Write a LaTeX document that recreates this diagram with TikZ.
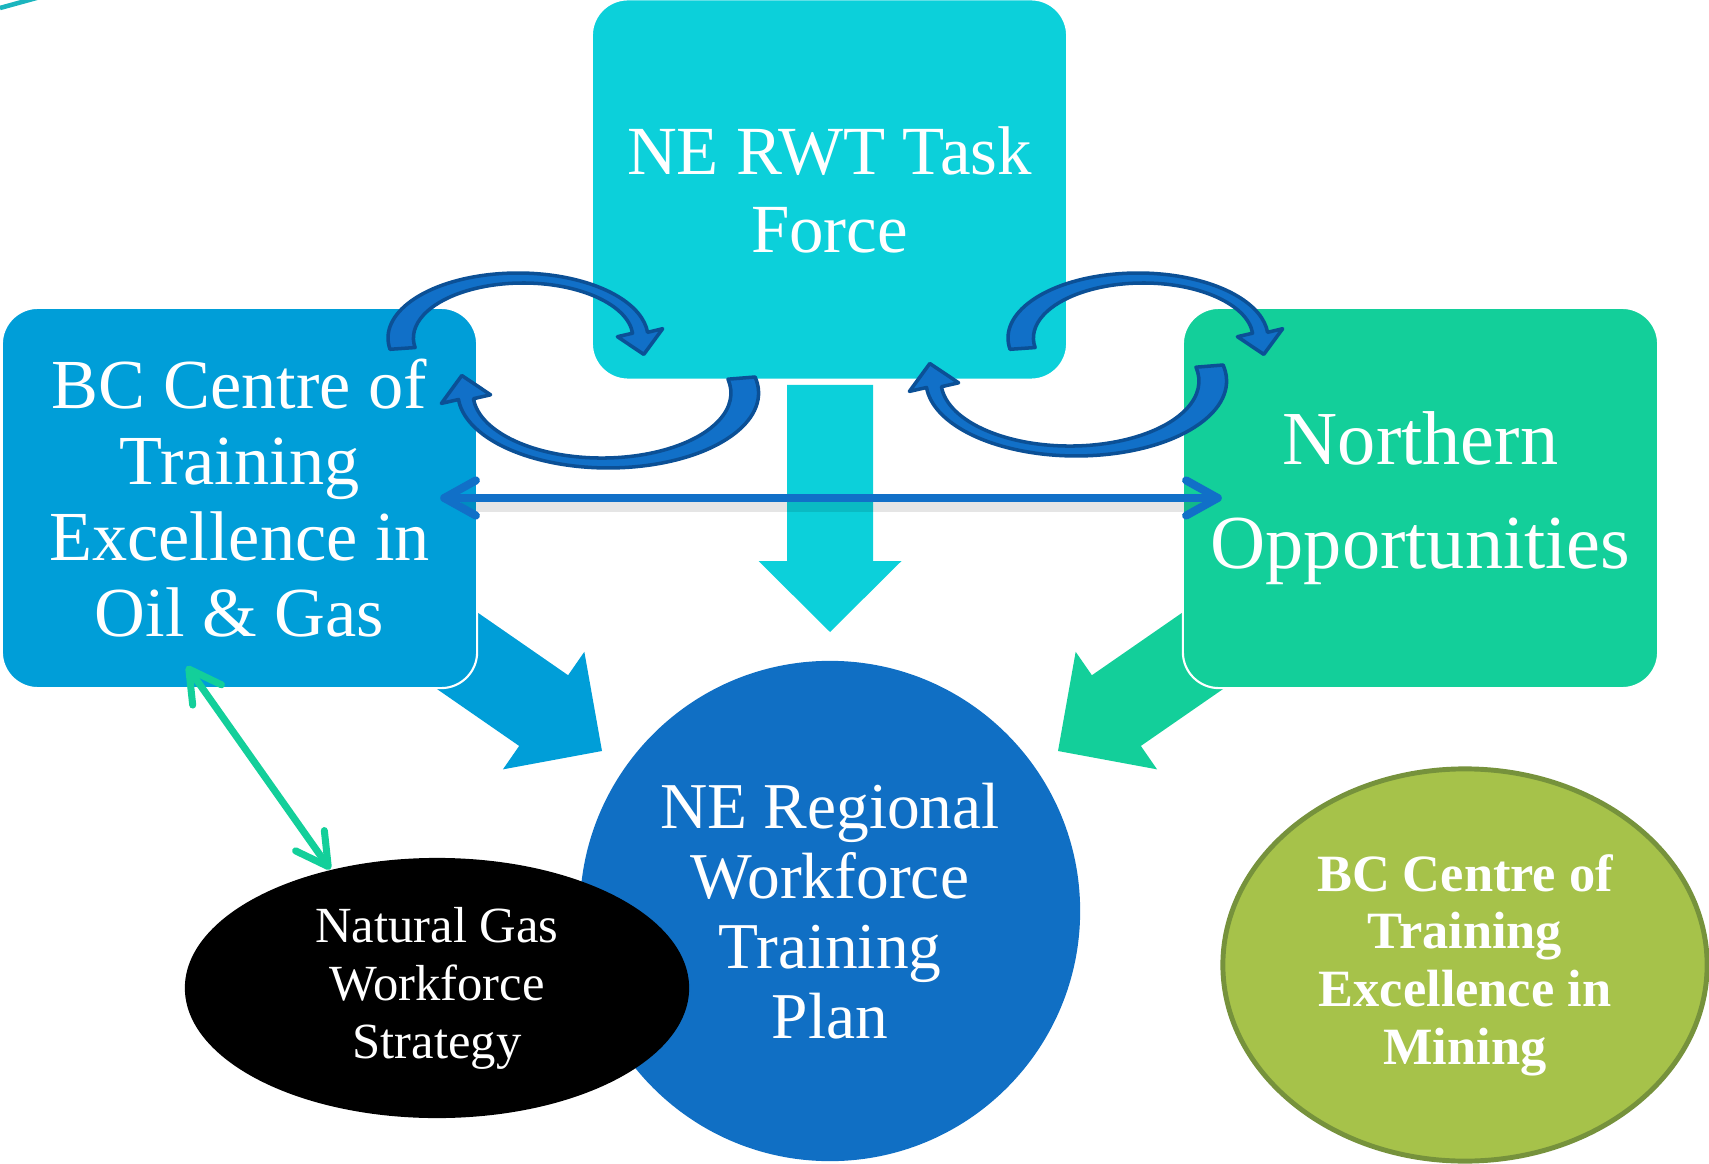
\documentclass[tikz,border=0pt]{standalone}
\usepackage{fontspec}
\setmainfont{Liberation Serif}
\usetikzlibrary{shapes.geometric,arrows.meta,calc}

\definecolor{taskcyan}{HTML}{0CD0DA}
\definecolor{oilblue}{HTML}{009ED8}
\definecolor{northgreen}{HTML}{13CF9A}
\definecolor{planblue}{HTML}{106FC4}
\definecolor{minegreen}{HTML}{A6C24A}
\definecolor{mineline}{HTML}{76923C}
\definecolor{curvefill}{HTML}{1170C8}
\definecolor{curveline}{HTML}{0B5096}
\definecolor{strayteal}{HTML}{1BB5BE}

\tikzset{
  rbox/.style={rectangle, rounded corners=0.36cm, draw=white, line width=0.6pt,
    minimum width=4.75cm, minimum height=3.8cm, inner sep=0pt, align=center, text=white},
  curvy/.style={fill=curvefill, draw=curveline, line width=1pt, line join=round},
  hlink/.style={draw=curvefill, line width=2.3pt, line cap=round, <->,
    >={Straight Barb[round,length=9pt,width=10pt]},
    preaction={draw=black, draw opacity=.1, arrows=-, line width=3pt, shorten <=6pt, shorten >=6pt,
      transform canvas={yshift=-2.5pt}}},
  glink/.style={draw=northgreen, line width=2pt, line cap=round, <->,
    >={Straight Barb[round,length=9pt,width=10pt]}},
}

% block arrow: colour, tip, angle, length
\newcommand\blockarrow[4]{%
  \fill[#1, shift={#2}, rotate=#3] (0,0) -- (-71,71.5) -- (-71,43) -- (-#4,43)
    -- (-#4,-43) -- (-71,-43) -- (-71,-71.5) -- cycle;}

\begin{document}
\begin{tikzpicture}[x=0.01cm, y=-0.01cm]
    \useasboundingbox (0,0) rectangle (1709,1164);

    % big arrows into the plan
    \blockarrow{oilblue}{(602,751)}{-34.7}{250}
    \blockarrow{taskcyan}{(830,632)}{-90}{247}
    \blockarrow{northgreen}{(1058,751)}{-145.3}{250}

    \node[rbox, fill=taskcyan, font=\fontsize{19.6}{22.2}\selectfont] (taskforce) at (829.5,189.5) {NE RWT Task\\Force};
    \node[rbox, fill=oilblue, font=\fontsize{20}{21.6}\selectfont] (oilgas) at (239.5,498) {BC Centre of\\Training\\Excellence in\\Oil \& Gas};
    \node[rbox, fill=northgreen, font=\fontsize{21.7}{29.4}\selectfont] (northern) at (1420.5,498) {Northern\\Opportunities};

    \node[circle, minimum size=5cm, inner sep=0pt, fill=planblue, text=white, align=center,
        font=\fontsize{18.6}{19.9}\selectfont] (plan) at (830,911) {NE Regional\\Workforce\\Training\\Plan};
    \node[ellipse, minimum width=5.04cm, minimum height=2.6cm, inner sep=0pt, fill=black, text=white, align=center,
        font=\fontsize{14.4}{16.5}\selectfont] (natgas) at (437,988) {Natural Gas\\Workforce\\Strategy};
    \node[ellipse, minimum width=4.84cm, minimum height=3.92cm, inner sep=0pt, fill=minegreen, draw=mineline,
        line width=1.4pt, text=white, align=center,
        font=\bfseries\fontsize{14.9}{16.4}\selectfont] (mining) at (1465,965) {BC Centre of\\Training\\Excellence in\\Mining};

    % curved arrows between the boxes
    \foreach \dx in {0,620} {
        \draw[curvy, shift={(\dx,0)}] (390.0,349.3) arc[start angle=170, end angle=355, x radius=130, y radius=65]
            -- (662.7,328.7) -- (643.8,354.4) -- (617.4,336.7) -- (632.6,333.2)
            arc[start angle=355, end angle=170, x radius=109.8, y radius=55] -- cycle;
    }
    \foreach \dx/\dy in {0/0,468/-12} {
        \draw[curvy, shift={(\dx,\dy)}] (755.1,377.0) arc[start angle=-12.3, end angle=175, x radius=150.3, y radius=75]
            -- (441.4,403.4) -- (461.8,375.5) -- (490.6,394.8) -- (473.45,398.7)
            arc[start angle=175, end angle=-12.3, x radius=129, y radius=65] -- cycle;
    }

    \draw[hlink] ([shift={(-38,0)}]oilgas.east) -- ([shift={(40,0)}]northern.west);
    \draw[glink] ([shift={(186,-23)}]oilgas.south west) -- (natgas.132);

    \draw[strayteal, line width=1.3pt] (0,8) -- (40,-3);
\end{tikzpicture}
\end{document}
